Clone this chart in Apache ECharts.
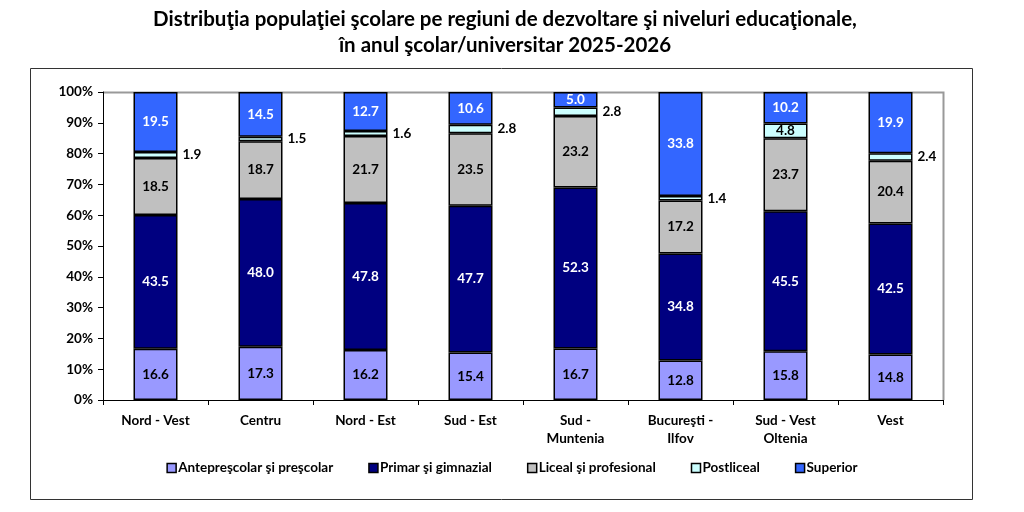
<!DOCTYPE html>
<html>
<head>
<meta charset="utf-8">
<script src="https://cdn.jsdelivr.net/npm/echarts@6/dist/echarts.min.js"></script>
<style>
  html, body { margin: 0; padding: 0; background: #fff; }
  #chart { width: 1024px; height: 512px; }
</style>
</head>
<body>
<div id="chart"></div>
<script>
  // regiuni de dezvoltare
  var regions = ['Nord - Vest', 'Centru', 'Nord - Est', 'Sud - Est', 'Sud -\nMuntenia', 'Bucureşti -\nIlfov', 'Sud - Vest\nOltenia', 'Vest'];
  // niveluri educationale (%)
  var anteprescolar = [16.6, 17.3, 16.2, 15.4, 16.7, 12.8, 15.8, 14.8];
  var primar = [43.5, 48.0, 47.8, 47.7, 52.3, 34.8, 45.5, 42.5];
  var liceal = [18.5, 18.7, 21.7, 23.5, 23.2, 17.2, 23.7, 20.4];
  var postliceal = [1.9, 1.5, 1.6, 2.8, 2.8, 1.4, 4.8, 2.4];
  var superior = [19.5, 14.5, 12.7, 10.6, 5.0, 33.8, 10.2, 19.9];

  var seriesNames = ['Antepreşcolar şi preşcolar', 'Primar şi gimnazial', 'Liceal şi profesional', 'Postliceal', 'Superior'];
  var colors = ['#9999FF', '#000080', '#C0C0C0', '#CCFFFF', '#3366FF'];
  var labelColors = ['#000', '#fff', '#000', '#000', '#fff'];
  var FONT = 'Lato';

  function mkSeries(idx, data) {
    var items = data.map(function (v, i) {
      var d = { value: v };
      // postliceal: eticheta in afara barei, doar unde e loc (Sud-Vest) in interior
      if (idx === 3 && v < 4) {
        d.label = { position: 'right', distance: 5 };
      }
      return d;
    });
    return {
      name: seriesNames[idx],
      type: 'bar',
      stack: 'total',
      barWidth: 44,
      data: items,
      itemStyle: { color: colors[idx], borderColor: '#000', borderWidth: 1.5 },
      label: {
        show: true,
        position: 'inside',
        color: labelColors[idx],
        fontFamily: FONT,
        fontWeight: 'bold',
        fontSize: 13.5,
        formatter: function (p) { return p.value.toFixed(1); }
      },
      emphasis: { disabled: true }
    };
  }

  var chart = echarts.init(document.getElementById('chart'));
  chart.setOption({
    animation: false,
    textStyle: { fontFamily: FONT },
    title: {
      text: 'Distribuţia populaţiei şcolare pe regiuni de dezvoltare şi niveluri educaţionale,\nîn anul şcolar/universitar 2025-2026',
      left: 500,
      textAlign: 'center',
      top: 1,
      textStyle: { fontFamily: FONT, fontWeight: 'bold', fontSize: 20.5, lineHeight: 26, color: '#000' }
    },
    graphic: [{
      type: 'rect',
      shape: { x: 30.5, y: 68.5, width: 942, height: 431 },
      style: { fill: 'none', stroke: '#333', lineWidth: 1 },
      z: -1
    }, {
      type: 'polyline',
      shape: { points: [[103, 92.5], [943.5, 92.5], [943.5, 400]] },
      style: { stroke: '#999', lineWidth: 2, fill: 'none' },
      z: -1
    }],
    legend: {
      top: 456,
      left: 'center',
      itemWidth: 9,
      itemHeight: 9,
      itemGap: 35,
      icon: 'rect',
      itemStyle: { borderColor: '#000', borderWidth: 1.5 },
      textStyle: { fontFamily: FONT, fontWeight: 'bold', fontSize: 13.5, color: '#000', padding: [0, 0, 0, -3] },
      data: seriesNames
    },
    grid: { left: 103, right: 81, top: 92, bottom: 112 },
    xAxis: {
      type: 'category',
      data: regions,
      axisLine: { lineStyle: { color: '#000', width: 1 } },
      axisTick: { show: true, alignWithLabel: false, length: 5, lineStyle: { color: '#000' } },
      axisLabel: { color: '#000', fontFamily: FONT, fontWeight: 'bold', fontSize: 13.5, lineHeight: 18, margin: 12, interval: 0 }
    },
    yAxis: {
      type: 'value',
      min: 0,
      max: 100,
      interval: 10,
      axisLine: { show: true, lineStyle: { color: '#000', width: 1 } },
      axisTick: { show: true, length: 5, lineStyle: { color: '#000' } },
      splitLine: { show: false },
      axisLabel: { color: '#000', fontFamily: FONT, fontWeight: 'bold', fontSize: 13.5, margin: 10, formatter: '{value}%' }
    },
    series: [
      mkSeries(0, anteprescolar),
      mkSeries(1, primar),
      mkSeries(2, liceal),
      mkSeries(3, postliceal),
      mkSeries(4, superior)
    ]
  });
</script>
</body>
</html>
